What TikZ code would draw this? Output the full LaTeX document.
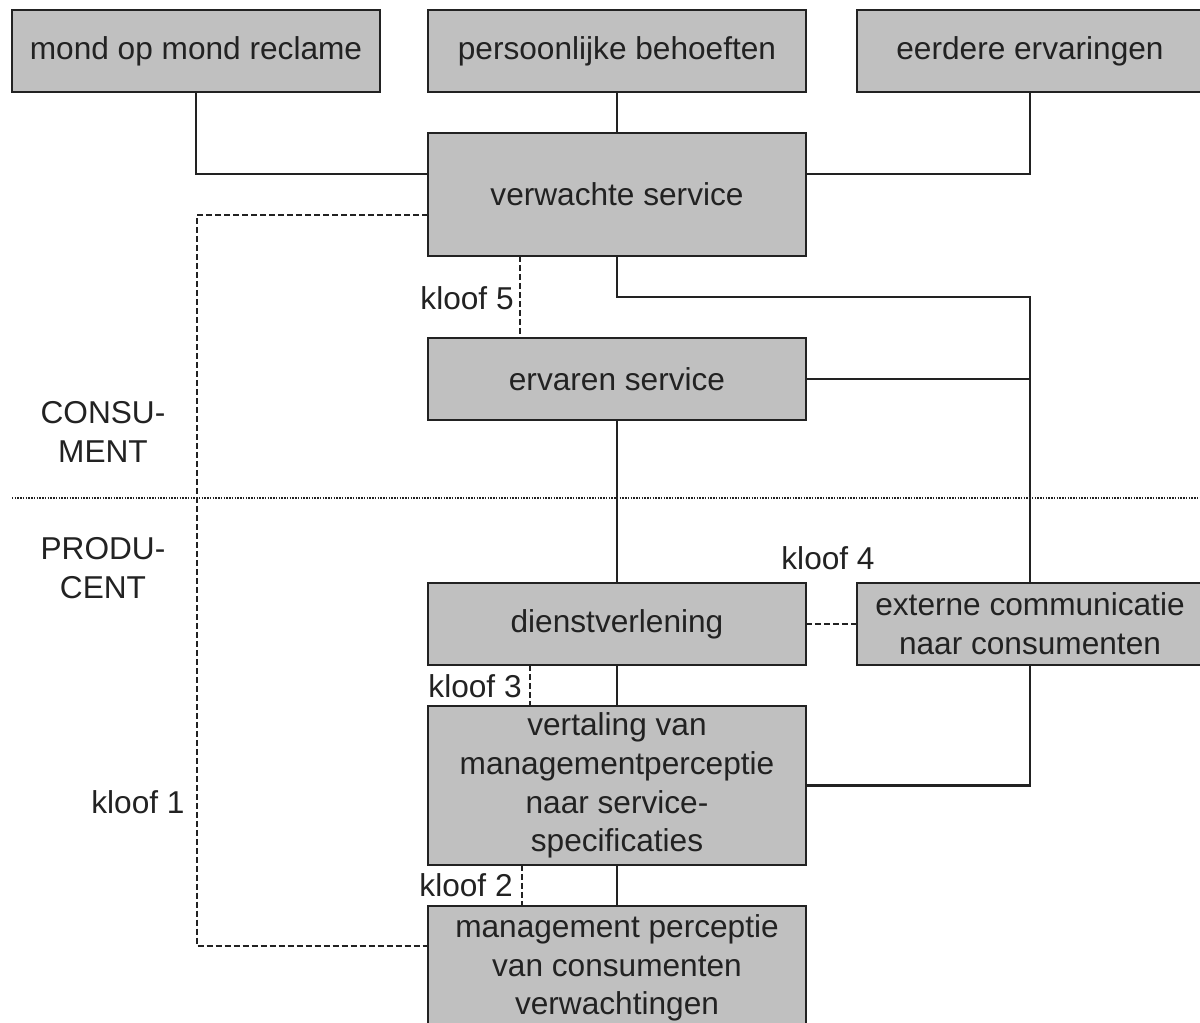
\documentclass[tikz,border=0pt]{standalone}
\usepackage{fontspec}
\setmainfont{Liberation Sans}
\usetikzlibrary{calc}
\definecolor{boxgray}{HTML}{C0C0C0}
\definecolor{ink}{HTML}{222222}
\tikzset{
  txt/.style={font=\fontsize{18pt}{22pt}\selectfont, text=ink, align=center, inner sep=0pt},
  box/.style={txt, draw=ink, fill=boxgray, line width=0.05cm, outer sep=0pt, minimum width=7.56cm, minimum height=1.64cm},
  conn/.style={draw=ink, line width=0.045cm},
  gap/.style={draw=ink, line width=0.04cm, dash pattern=on 0.12cm off 0.06cm},
  divider/.style={draw=ink, line width=0.03cm, dash pattern=on 0.03cm off 0.025cm}
}
\begin{document}
\begin{tikzpicture}[x=0.02cm, y=-0.02cm]
\useasboundingbox (0,0) rectangle (1200,1023);
\clip (0,0) rectangle (1200,1023);
% helper coordinates
\coordinate (r174) at (0,174);
\coordinate (r215) at (0,215);
\coordinate (r297) at (0,297);
\coordinate (c1) at (197,946);
\coordinate (x520) at (520,0);
\coordinate (x530) at (530,0);
\coordinate (x522) at (522,0);
\coordinate (dl) at (12,498);
\coordinate (dr) at (1200,498);
% boxes
\node[box, minimum width=7.36cm] (mond) at (196,51) {\raisebox{-2pt}{mond op mond reclame}};
\node[box] (pers) at (617,51) {\raisebox{-2pt}{persoonlijke behoeften}};
\node[box, minimum width=6.92cm] (eer) at (1030,51) {\raisebox{-2pt}{eerdere ervaringen}};
\node[box, minimum height=2.46cm] (verw) at (617,194.5) {verwachte service};
\node[box] (erv) at (617,379) {ervaren service};
\node[box] (dienst) at (617,624) {\raisebox{-2pt}{dienstverlening}};
\node[box, minimum width=6.92cm] (ext) at (1030,624) {externe communicatie\\naar consumenten};
\node[box, minimum height=3.18cm] (vert) at (617,785.5) {vertaling van\\managementperceptie\\naar service-\\specificaties};
\node[box, minimum height=3.18cm] (mg) at (617,985.5) {};
\node[txt] (mgtxt) at (617,968) {management perceptie\\van consumenten\\verwachtingen};
% labels
\node[txt] (cons) at (103,432) {CONSU-\\MENT};
\node[txt] (prod) at (103,568) {PRODU-\\CENT};
\node[txt, anchor=east] (k5) at (514,298) {kloof 5};
\node[txt] (k4) at (828,558) {kloof 4};
\node[txt, anchor=east] (k3) at (522,686) {kloof 3};
\node[txt, anchor=east] (k2) at (513,885) {kloof 2};
\node[txt] (k1) at (138,802) {kloof 1};
% solid connectors
\draw[conn] (mond.south) |- (verw.west |- r174);
\draw[conn] (pers.south) -- (verw.north);
\draw[conn] (eer.south) |- (verw.east |- r174);
\draw[conn] (verw.south) |- (ext.north |- r297) -- (ext.north);
\draw[conn] (erv.east) -- (ext.north |- erv.east);
\draw[conn] (erv.south) -- (dienst.north);
\draw[conn] (dienst.south) -- (vert.north);
\draw[conn] (vert.south) -- (mg.north);
\draw[conn] (vert.east) -| (ext.south);
% gaps
\draw[gap] (verw.west |- r215) -| (c1) -- (mg.west |- c1);
\draw[gap] (verw.south -| x520) -- (erv.north -| x520);
\draw[gap] (dienst.east) -- (ext.west);
\draw[gap] (dienst.south -| x530) -- (vert.north -| x530);
\draw[gap] (vert.south -| x522) -- (mg.north -| x522);
% divider
\draw[divider] (dl) -- (dr);
\end{tikzpicture}
\end{document}
